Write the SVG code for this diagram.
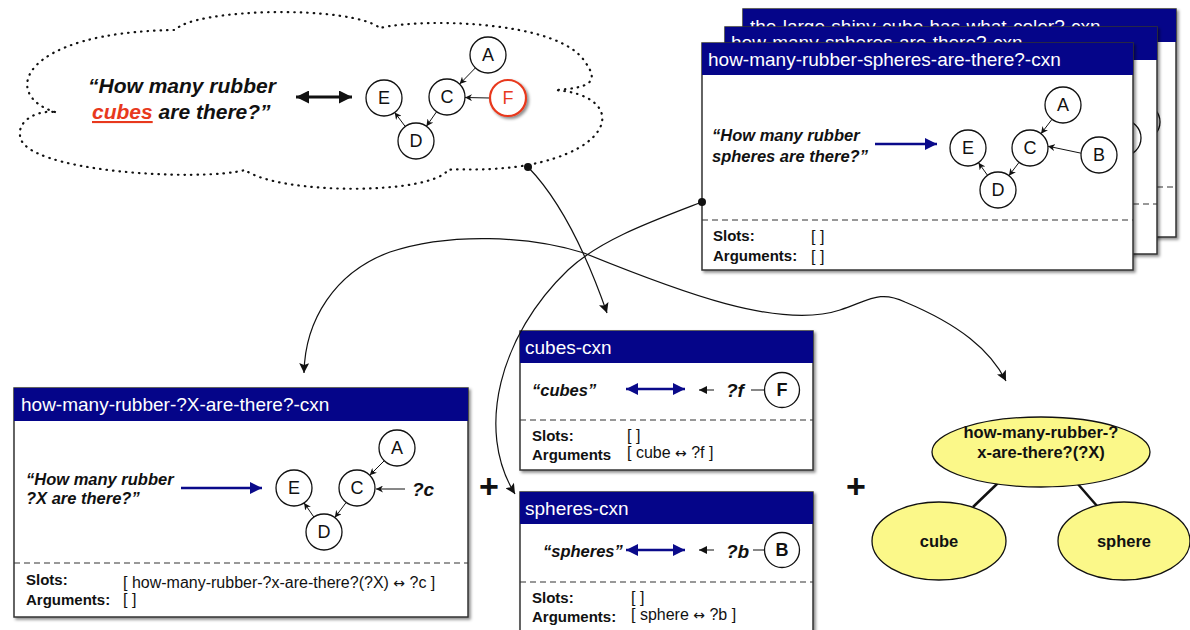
<svg xmlns="http://www.w3.org/2000/svg" width="1190" height="630" viewBox="0 0 1190 630">
<defs>
<style>
.t{font-family:"Liberation Sans",Arial,sans-serif}
.title{font-family:"Liberation Sans",Arial,sans-serif;font-size:19px;fill:#fff}
.q{font-family:"Liberation Sans",Arial,sans-serif;font-size:16.5px;font-weight:bold;font-style:italic;fill:#111}
.lab{font-family:"Liberation Sans",Arial,sans-serif;font-size:15px;font-weight:bold;fill:#111}
.val{font-family:"Liberation Sans",Arial,sans-serif;font-size:16px;fill:#111}
.arr{font-family:"DejaVu Sans",sans-serif;font-size:14px}
.nd{fill:#fff;stroke:#111;stroke-width:1.3}
.nt{font-family:"Liberation Sans",Arial,sans-serif;font-size:18px;fill:#111;text-anchor:middle}
.ed{stroke:#111;stroke-width:1;fill:none}
.card{fill:#fff;stroke:#333;stroke-width:1.5}
.hdr{fill:#050589}
.dash{stroke:#333;stroke-width:1.2;stroke-dasharray:6,4}
.conn{fill:none;stroke:#111;stroke-width:1.2}
.blue{stroke:#0a0a8a;stroke-width:2.5;fill:none}
.yel{fill:#fbf889;stroke:#111;stroke-width:1.3}
.yt{font-family:"Liberation Sans",Arial,sans-serif;font-size:16.5px;font-weight:bold;fill:#111;text-anchor:middle}
.plus{font-family:"Liberation Sans",Arial,sans-serif;font-size:34px;font-weight:bold;fill:#111;text-anchor:middle}
</style>
<filter id="sh" x="-10%" y="-10%" width="125%" height="125%"><feDropShadow dx="2" dy="2" stdDeviation="1.5" flood-color="#000" flood-opacity="0.45"/></filter>
<clipPath id="cb2"><rect x="743" y="9" width="433" height="18"/></clipPath>
<clipPath id="cb1"><rect x="725" y="27" width="432" height="16"/></clipPath>
<marker id="ma" viewBox="0 0 10 10" refX="10" refY="5" markerWidth="7" markerHeight="7" markerUnits="userSpaceOnUse" orient="auto"><path d="M0,0 L10,5 L0,10 L3,5 Z" fill="#111"/></marker>
<marker id="ma2" viewBox="0 0 10 10" refX="10" refY="5" markerWidth="10" markerHeight="8" markerUnits="userSpaceOnUse" orient="auto"><path d="M0,0 L10,5 L0,10 Z" fill="#111"/></marker>
<marker id="mc" viewBox="0 0 10 10" refX="10" refY="5" markerWidth="12" markerHeight="10" markerUnits="userSpaceOnUse" orient="auto"><path d="M0,0 L10,5 L0,10 L2,5 Z" fill="#111"/></marker>
<marker id="mb" viewBox="0 0 10 10" refX="10" refY="5" markerWidth="16" markerHeight="12" markerUnits="userSpaceOnUse" orient="auto-start-reverse"><path d="M0,0 L10,5 L0,10 Z" fill="#0a0a8a"/></marker>
<marker id="mk" viewBox="0 0 10 10" refX="10" refY="5" markerWidth="16" markerHeight="13" markerUnits="userSpaceOnUse" orient="auto-start-reverse"><path d="M0,0 L10,5 L0,10 Z" fill="#111"/></marker>
</defs>

<g id="cloud">
<path d="M55,112 C0,95 20,32 175,30 C195,8 350,5 380,28 C420,18 560,20 585,62 C600,82 590,88 555,90 C625,95 620,150 522,166 C480,172 455,168 448,170 C430,195 280,195 245,170 C200,182 20,172 20,135 C18,120 38,110 55,112 Z" fill="#fff" stroke="#111" stroke-width="2.2" stroke-dasharray="0.5,6" stroke-linecap="round"/>
<text class="t" x="88" y="93" font-size="21" font-weight="bold" font-style="italic" fill="#111">“How many rubber</text>
<text class="t" x="92" y="119" font-size="21" font-weight="bold" font-style="italic" fill="#111"><tspan fill="#e8391d" text-decoration="underline">cubes</tspan> are there?”</text>
<line x1="296" y1="97" x2="352" y2="97" stroke="#111" stroke-width="3" marker-start="url(#mk)" marker-end="url(#mk)"/>
<g id="cloud-graph">
<line class="ed" x1="475.4" y1="67.9" x2="459.6" y2="84.1" marker-end="url(#ma)"/>
<line class="ed" x1="490" y1="98" x2="465" y2="97.5" marker-end="url(#ma)"/>
<line class="ed" x1="436.6" y1="111.7" x2="426.4" y2="126.3" marker-end="url(#ma)"/>
<line class="ed" x1="405.3" y1="126.6" x2="394.7" y2="112.4" marker-end="url(#ma)"/>
<circle class="nd" cx="488" cy="55" r="18"/><text class="nt" x="488" y="61">A</text>
<circle class="nd" cx="447" cy="97" r="18"/><text class="nt" x="447" y="103">C</text>
<circle class="nd" cx="384" cy="98" r="18"/><text class="nt" x="384" y="104">E</text>
<circle class="nd" cx="416" cy="141" r="18"/><text class="nt" x="416" y="147">D</text>
<circle cx="508" cy="98" r="18" fill="#fff" stroke="#e8391d" stroke-width="2.2" filter="url(#sh)"/><text class="nt" x="508" y="104" style="fill:#e8391d">F</text>
</g>
</g>

<g id="card-back2">
<rect class="card" x="743" y="9" width="433" height="228" filter="url(#sh)"/>
<rect class="hdr" x="743" y="9" width="433" height="33"/>
<text class="title" x="750" y="33" clip-path="url(#cb2)">the-large-shiny-cube-has-what-color?-cxn</text>
<line class="dash" x1="1157" y1="187" x2="1176" y2="187"/>
<circle class="nd" cx="1142" cy="122" r="18"/>
</g>
<g id="card-back1">
<rect class="card" x="725" y="27" width="432" height="227" filter="url(#sh)"/>
<rect class="hdr" x="725" y="27" width="432" height="33"/>
<text class="title" x="731" y="49" clip-path="url(#cb1)">how-many-spheres-are-there?-cxn</text>
<line class="dash" x1="1133" y1="204" x2="1157" y2="204"/>
<circle class="nd" cx="1123" cy="138" r="18"/>
</g>
<g id="card-front">
<rect class="card" x="702" y="43" width="431" height="227" filter="url(#sh)"/>
<rect class="hdr" x="702" y="43" width="431" height="32"/>
<text class="title" x="708" y="66">how-many-rubber-spheres-are-there?-cxn</text>
<text class="q" x="712" y="141">“How many rubber</text>
<text class="q" x="712" y="162">spheres are there?”</text>
<line class="blue" x1="875" y1="144" x2="937" y2="144" marker-end="url(#mb)"/>
<line class="ed" x1="1052" y1="119.3" x2="1041" y2="133.7" marker-end="url(#ma)"/>
<line class="ed" x1="1081.1" y1="153.2" x2="1047.9" y2="146.2" marker-end="url(#ma)"/>
<line class="ed" x1="1019.1" y1="162.3" x2="1008.9" y2="175.7" marker-end="url(#ma)"/>
<line class="ed" x1="987.5" y1="175.3" x2="978.5" y2="162.7" marker-end="url(#ma)"/>
<circle class="nd" cx="1063" cy="105" r="18"/><text class="nt" x="1063" y="111">A</text>
<circle class="nd" cx="1030" cy="148" r="18"/><text class="nt" x="1030" y="154">C</text>
<circle class="nd" cx="1099" cy="155" r="18"/><text class="nt" x="1099" y="161">B</text>
<circle class="nd" cx="968" cy="148" r="18"/><text class="nt" x="968" y="154">E</text>
<circle class="nd" cx="998" cy="190" r="18"/><text class="nt" x="998" y="196">D</text>
<line class="dash" x1="702" y1="220" x2="1133" y2="220"/>
<text class="lab" x="713" y="241">Slots:</text><text class="val" x="811" y="242">[ ]</text>
<text class="lab" x="713" y="261">Arguments:</text><text class="val" x="811" y="262">[ ]</text>
</g>

<g id="card-general">
<rect class="card" x="14" y="388" width="454" height="229" filter="url(#sh)"/>
<rect class="hdr" x="14" y="388" width="454" height="33"/>
<text class="title" x="21" y="411">how-many-rubber-?X-are-there?-cxn</text>
<text class="q" x="26" y="485">“How many rubber</text>
<text class="q" x="26" y="504"> ?X are there?”</text>
<line class="blue" x1="181" y1="488" x2="262" y2="488" marker-end="url(#mb)"/>
<line class="ed" x1="384.3" y1="460.7" x2="369.7" y2="475.3" marker-end="url(#ma)"/>
<line class="ed" x1="405" y1="489" x2="376" y2="489" marker-end="url(#ma)"/>
<line class="ed" x1="346.2" y1="502.4" x2="334.8" y2="517.6" marker-end="url(#ma)"/>
<line class="ed" x1="313.9" y1="517.1" x2="304.1" y2="502.9" marker-end="url(#ma)"/>
<circle class="nd" cx="397" cy="448" r="18"/><text class="nt" x="397" y="454">A</text>
<circle class="nd" cx="357" cy="488" r="18"/><text class="nt" x="357" y="494">C</text>
<circle class="nd" cx="294" cy="488" r="18"/><text class="nt" x="294" y="494">E</text>
<circle class="nd" cx="324" cy="532" r="18"/><text class="nt" x="324" y="538">D</text>
<text class="t" x="412" y="496" font-size="19" font-weight="bold" font-style="italic" fill="#111">?c</text>
<line class="dash" x1="14" y1="563" x2="468" y2="563"/>
<text class="lab" x="26" y="585">Slots:</text>
<text class="val" x="123" y="588">[ how-many-rubber-?x-are-there?(?X) <tspan class="arr">↔</tspan> ?c ]</text>
<text class="lab" x="26" y="605">Arguments:</text><text class="val" x="123" y="605">[ ]</text>
</g>

<g id="card-cubes">
<rect class="card" x="520" y="331" width="293" height="139" filter="url(#sh)"/>
<rect class="hdr" x="520" y="331" width="293" height="32"/>
<text class="title" x="525" y="354">cubes-cxn</text>
<text class="q" x="532" y="396">“cubes”</text>
<line class="blue" x1="626" y1="389" x2="685" y2="389" marker-start="url(#mb)" marker-end="url(#mb)"/>
<line class="ed" x1="714" y1="390" x2="699" y2="390" stroke-width="1.5" marker-end="url(#ma2)"/>
<text class="t" x="726" y="397" font-size="19" font-weight="bold" font-style="italic" fill="#111">?f</text>
<line class="ed" x1="751" y1="390" x2="765" y2="390"/>
<circle class="nd" cx="782" cy="390" r="17.5"/><text class="nt" x="782" y="396" font-weight="bold">F</text>
<line class="dash" x1="520" y1="420" x2="813" y2="420"/>
<text class="lab" x="532" y="441">Slots:</text><text class="val" x="627" y="441">[ ]</text>
<text class="lab" x="532" y="460">Arguments</text><text class="val" x="627" y="458">[ cube <tspan class="arr">↔</tspan> ?f ]</text>
</g>

<g id="card-spheres">
<rect class="card" x="520" y="492" width="293" height="145" filter="url(#sh)"/>
<rect class="hdr" x="520" y="492" width="293" height="32"/>
<text class="title" x="525" y="515">spheres-cxn</text>
<text class="q" x="543" y="557">“spheres”</text>
<line class="blue" x1="626" y1="550" x2="685" y2="550" marker-start="url(#mb)" marker-end="url(#mb)"/>
<line class="ed" x1="714" y1="550" x2="699" y2="550" stroke-width="1.5" marker-end="url(#ma2)"/>
<text class="t" x="726" y="558" font-size="19" font-weight="bold" font-style="italic" fill="#111">?b</text>
<line class="ed" x1="753" y1="550" x2="765" y2="550"/>
<circle class="nd" cx="782" cy="550" r="17.5"/><text class="nt" x="782" y="556" font-weight="bold">B</text>
<line class="dash" x1="520" y1="582" x2="813" y2="582"/>
<text class="lab" x="532" y="603">Slots:</text><text class="val" x="631" y="603">[ ]</text>
<text class="lab" x="532" y="622">Arguments:</text><text class="val" x="631" y="620">[ sphere <tspan class="arr">↔</tspan> ?b ]</text>
</g>

<g id="plus-1"><text class="plus" x="489" y="498">+</text></g>
<g id="plus-2"><text class="plus" x="856" y="498">+</text></g>

<g id="tree">
<line x1="998" y1="483" x2="973" y2="507" stroke="#111" stroke-width="2.5"/>
<line x1="1077" y1="483" x2="1097" y2="506" stroke="#111" stroke-width="2.5"/>
<g id="tree-root"><ellipse class="yel" cx="1041" cy="452" rx="109" ry="35"/>
<text class="yt" x="1041" y="438">how-many-rubber-?</text><text class="yt" x="1041" y="458">x-are-there?(?X)</text></g>
<g id="tree-cube"><ellipse class="yel" cx="939" cy="541" rx="67" ry="39"/><text class="yt" x="939" y="547">cube</text></g>
<g id="tree-sphere"><ellipse class="yel" cx="1124" cy="541" rx="66" ry="39"/><text class="yt" x="1124" y="547">sphere</text></g>
</g>

<g id="connectors">
<path class="conn" d="M528,167 C560,200 585,250 607,313" marker-end="url(#mc)"/>
<path class="conn" d="M702,202 C650,222 600,240 568,270 C500,335 475,430 515,494" marker-end="url(#mc)"/>
<path class="conn" d="M584,253 C530,236 450,232 390,252 C335,272 305,320 304,373" marker-end="url(#mc)"/>
<path class="conn" d="M584,253 C680,292 780,330 840,310 C870,300 880,290 905,302 C960,325 990,350 1006,381" marker-end="url(#mc)"/>
<circle cx="528" cy="167" r="4" fill="#111"/>
<circle cx="702" cy="202" r="4" fill="#111"/>
</g>
</svg>
